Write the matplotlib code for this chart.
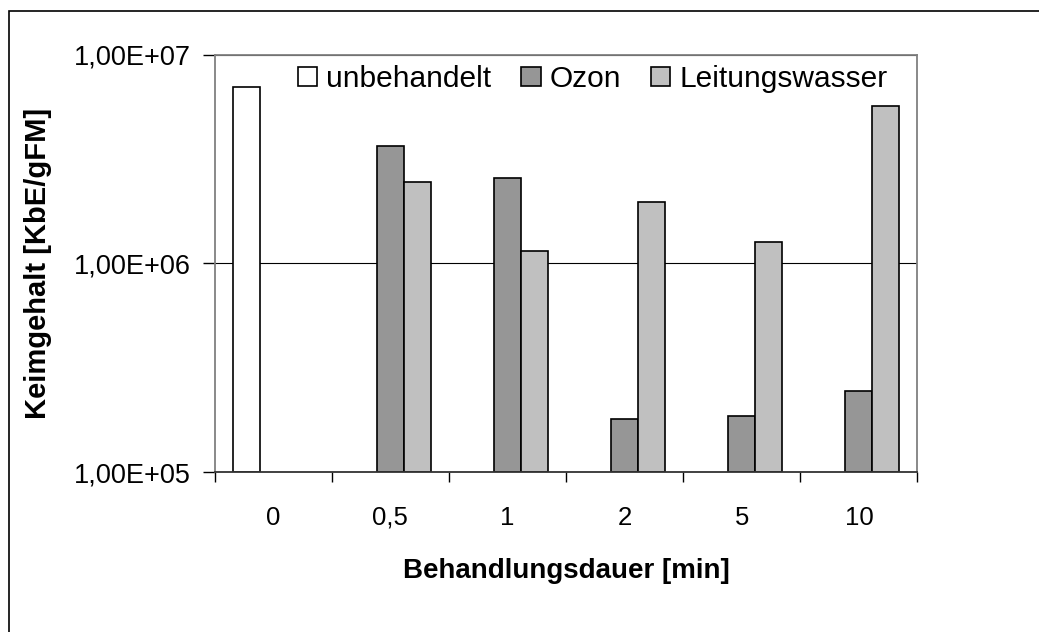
import numpy as np
import matplotlib
matplotlib.use("Agg")
import matplotlib.pyplot as plt
from matplotlib.patches import Rectangle

plt.rcParams['font.family'] = ['Liberation Sans', 'DejaVu Sans']

# Data
categories = ["0", "0,5", "1", "2", "5", "10"]
unbehandelt = [7.0e6, np.nan, np.nan, np.nan, np.nan, np.nan]
ozon = [np.nan, 3.65e6, 2.57e6, 1.80e5, 1.87e5, 2.46e5]
leitungswasser = [np.nan, 2.45e6, 1.15e6, 1.96e6, 1.27e6, 5.7e6]
ytick_vals = [1e5, 1e6, 1e7]
ytick_labels = ["1,00E+05", "1,00E+06", "1,00E+07"]

W, H = 1039, 632
fig = plt.figure(figsize=(W / 100, H / 100), dpi=100)
ax = fig.add_axes([214.5 / W, 1 - 472.3 / H, 703 / W, 417.6 / H])

x = np.arange(len(categories))
w = 0.23
ax.bar(x - w, np.array(unbehandelt) - 1e5, w, bottom=1e5, color="white", edgecolor="black", linewidth=1.2, label="unbehandelt")
ax.bar(x, np.array(ozon) - 1e5, w, bottom=1e5, color="#969696", edgecolor="black", linewidth=1.2, label="Ozon")
ax.bar(x + w, np.array(leitungswasser) - 1e5, w, bottom=1e5, color="#C0C0C0", edgecolor="black", linewidth=1.2, label="Leitungswasser")

ax.set_yscale("log")
ax.set_ylim(1e5, 1e7)
ax.set_xlim(-0.5, len(categories) - 0.5)

# y axis
ax.set_yticks(ytick_vals)
ax.set_yticklabels(ytick_labels)
ax.yaxis.set_minor_locator(matplotlib.ticker.NullLocator())
ax.tick_params(axis="y", which="major", direction="out", length=9, width=1, pad=8, labelsize=19.5, color="black")
ax.yaxis.grid(True, which="major", color="black", linewidth=0.8)
ax.set_axisbelow(True)

# x axis: tick marks between categories, labels at centers
ax.set_xticks(np.arange(-0.5, len(categories), 1.0))
ax.set_xticklabels([])
ax.set_xticks(x, minor=True)
ax.set_xticklabels(categories, minor=True)
ax.tick_params(axis="x", which="major", direction="out", length=7, width=1, color="black")
ax.tick_params(axis="x", which="minor", length=0, pad=24, labelsize=18.5)

for side in ["top", "right", "left"]:
    ax.spines[side].set_color("#808080")
    ax.spines[side].set_linewidth(1.3)
ax.spines["bottom"].set_color("#333333")
ax.spines["bottom"].set_linewidth(1.3)

ax.set_xlabel("Behandlungsdauer [min]", fontsize=20, fontweight="bold")
ax.xaxis.set_label_coords(0.5, -0.205)
ax.set_ylabel("Keimgehalt [KbE/gFM]", fontsize=21, fontweight="bold")
ax.yaxis.set_label_coords(-0.231, 0.5)

fig.legend(loc="center left", bbox_to_anchor=(298 / W, 1 - 79 / H), ncol=3, frameon=False,
           fontsize=21.5, handlelength=0.65, handleheight=0.65, handletextpad=0.3,
           columnspacing=1.0, borderpad=0, borderaxespad=0)

# chart area border
fig.patches.append(Rectangle((9 / W, -0.05), 1.1, 1.05 - 11 / H, transform=fig.transFigure,
                             fill=False, edgecolor="black", linewidth=1.2))

fig.savefig("out.png", dpi=100)
